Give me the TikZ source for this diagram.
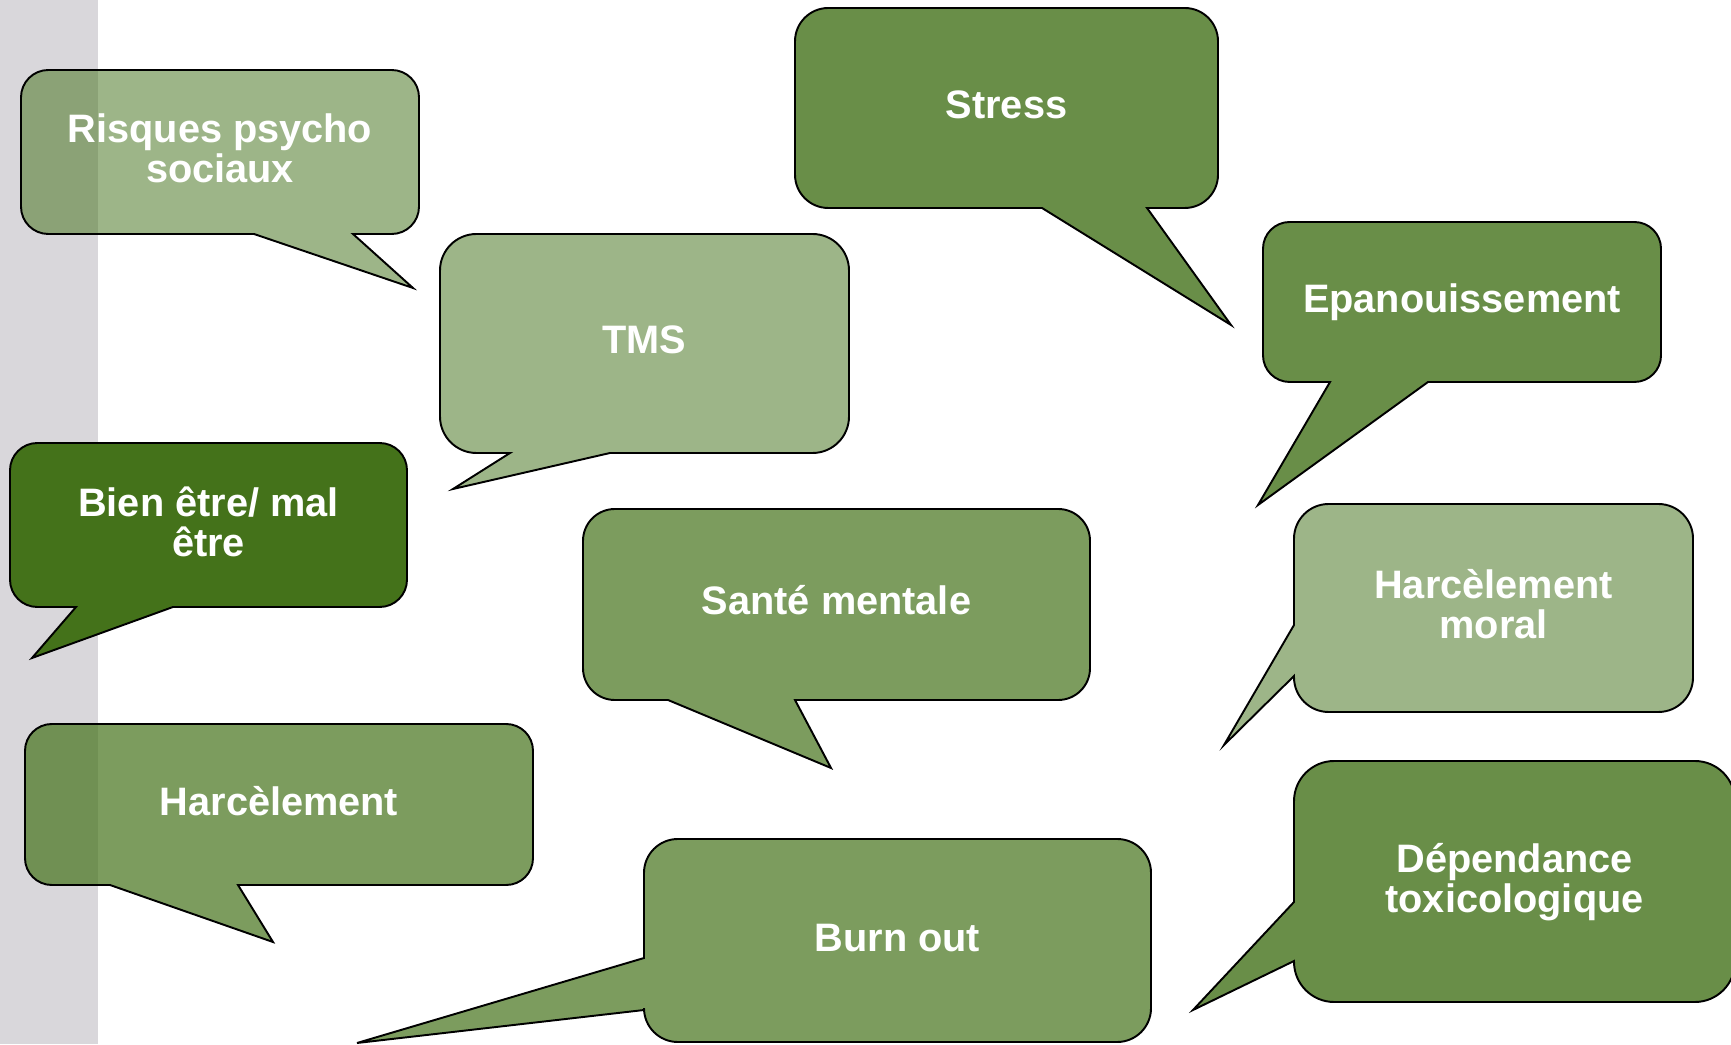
\documentclass[tikz,border=0pt]{standalone}
\usepackage{fontspec}
\setmainfont{Liberation Sans}
\usepackage{xcolor}
\usepackage{tikz}
\usetikzlibrary{
calc
}
\definecolor{RPSGreen}{HTML}{44721A}
\definecolor{RPSStrip}{HTML}{D9D7DB}
\tikzset{
rpsbubble/.style={draw=black, line width=0.55pt, fill=RPSGreen},
rpspale/.style={fill opacity=0.52},
rpsmid/.style={fill opacity=0.70},
rpsdeep/.style={fill opacity=0.80},
rpsfull/.style={fill opacity=1},
rpslabel/.style={text=white, align=center, inner sep=0pt,
  font=\fontsize{11.3}{11.4}\selectfont\bfseries},
rpsline/.style={rpslabel, anchor=base}
}
% callout with its tail on the bottom edge: style, L, B, R, T, base x, tip, base x
\newcommand{\bubbledown}[8]{%
  \pgfmathsetmacro{\bubr}{min(#4-#2,#5-#3)/6}
  \draw[rpsbubble,#1] (#2+\bubr,#3) -- (#6,#3) -- #7 -- (#8,#3) -- (#4-\bubr,#3)
    arc[start angle=-90,end angle=0,radius=\bubr] -- (#4,#5-\bubr)
    arc[start angle=0,end angle=90,radius=\bubr] -- (#2+\bubr,#5)
    arc[start angle=90,end angle=180,radius=\bubr] -- (#2,#3+\bubr)
    arc[start angle=180,end angle=270,radius=\bubr] -- cycle;
}
% callout with its tail on the left edge: style, L, B, R, T, upper y, tip, lower y
\newcommand{\bubbleleft}[8]{%
  \pgfmathsetmacro{\bubr}{min(#4-#2,#5-#3)/6}
  \draw[rpsbubble,#1] (#2+\bubr,#3) -- (#4-\bubr,#3)
    arc[start angle=-90,end angle=0,radius=\bubr] -- (#4,#5-\bubr)
    arc[start angle=0,end angle=90,radius=\bubr] -- (#2+\bubr,#5)
    arc[start angle=90,end angle=180,radius=\bubr] -- (#2,#6) -- #7 -- (#2,#8) -- (#2,#3+\bubr)
    arc[start angle=180,end angle=270,radius=\bubr] -- cycle;
}

\begin{document}
\begin{tikzpicture}[x=0.1mm, y=0.1mm]
\useasboundingbox (0,0) rectangle (1731,1044);
\fill[RPSStrip] (0,0) rectangle (98,1044);

\bubbledown{rpspale}{21}{810}{419}{974}{254}{(413,756)}{353}
\bubbledown{rpsdeep}{795}{836}{1218}{1036}{1042}{(1231,719)}{1147}
\bubbledown{rpspale}{440}{591}{849}{810}{510}{(453,555)}{610}
\bubbledown{rpsdeep}{1263}{662}{1661}{822}{1330}{(1258,539)}{1428}
\bubbledown{rpsfull}{10}{437}{407}{601}{76}{(32,386)}{173}
\bubbledown{rpsmid}{583}{344}{1090}{535}{668}{(831,276)}{795}
\bubbleleft{rpspale}{1294}{332}{1693}{540}{419}{(1224,299)}{368}
\bubbledown{rpsmid}{25}{159}{533}{320}{110}{(273,102)}{238}
\bubbleleft{rpsmid}{644}{2}{1151}{205}{86}{(357,1)}{34}
\bubbleleft{rpsdeep}{1294}{42}{1735}{283}{142}{(1193,34)}{83}

\node[rpslabel] (rps) at (220,895.5) {Risques psycho\\sociaux};
\node[rpsline] (stress) at (1006.5,925.5) {Stress};
\node[rpsline] (tms) at (644.5,690) {TMS};
\node[rpsline] (epan) at (1462,731.5) {Epanouissement};
\node[rpslabel] (bienetre) at (208.5,522.5) {Bien être/ mal\\être};
\node[rpsline] (sante) at (836.5,429) {Santé mentale};
\node[rpslabel] (harcmoral) at (1493.5,440) {Harcèlement\\moral};
\node[rpsline] (harc) at (279,229) {Harcèlement};
\node[rpsline] (burnout) at (897.5,93) {Burn out};
\node[rpslabel] (dependance) at (1514.5,162) {Dépendance\\toxicologique};
\end{tikzpicture}
\end{document}
